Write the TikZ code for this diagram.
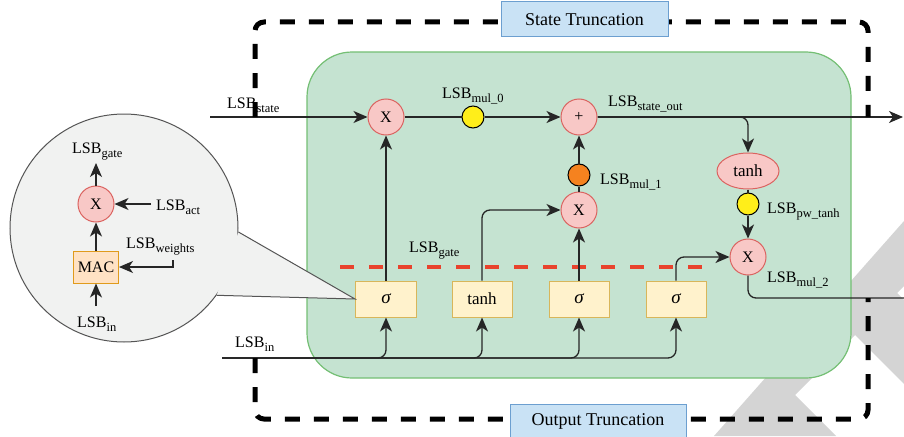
\documentclass[tikz,border=0pt]{standalone}
\usepackage{fontspec}
\setmainfont{Liberation Serif}
\usetikzlibrary{arrows.meta,shapes.geometric}
\definecolor{greenf}{HTML}{C5E3D1}
\definecolor{greenb}{HTML}{74BF74}
\definecolor{redf}{HTML}{F8C8C6}
\definecolor{redb}{HTML}{DB6360}
\definecolor{yelf}{HTML}{FFF2CC}
\definecolor{yelb}{HTML}{D8B65A}
\definecolor{macf}{HTML}{FFE2C4}
\definecolor{macb}{HTML}{E09B1C}
\definecolor{bluef}{HTML}{C9E2F5}
\definecolor{blueb}{HTML}{6C9FD0}
\definecolor{dotY}{HTML}{FFEE1A}
\definecolor{dotO}{HTML}{F5821F}
\definecolor{magf}{HTML}{F1F2F1}
\definecolor{magb}{HTML}{555555}
\definecolor{redd}{HTML}{E8432D}
\definecolor{wmk}{HTML}{D4D4D4}
\newcommand\lsbl[1]{LSB\raisebox{-4.5pt}{\fontsize{12.5}{12.5}\selectfont #1}}
\newcommand\sig{{\fontsize{19}{19}\selectfont\itshape σ}}
\begin{document}
\begin{tikzpicture}[x=1pt,y=-1pt,
 conn/.style={line width=1.3pt, draw=black!85},
 arr/.style={conn, -{Stealth[length=14pt,width=12pt,inset=4pt]}},
 opc/.style={circle, draw=redb, fill=redf, line width=1pt, minimum size=36pt, inner sep=0pt, font=\fontsize{16}{16}\selectfont},
 dotc/.style={circle, draw=black, line width=1pt, minimum size=22pt, inner sep=0pt},
 gbox/.style={rectangle, draw=yelb, fill=yelf, line width=1pt, minimum height=36pt, inner sep=0pt, font=\fontsize{17}{17}\selectfont},
 tbox/.style={rectangle, draw=blueb, fill=bluef, line width=1pt, inner sep=0pt, font=\fontsize{18}{18}\selectfont},
 lbl/.style={anchor=base west, inner sep=0pt, font=\fontsize{16}{16}\selectfont},
 trunc/.style={line width=5pt, dash pattern=on 15pt off 14pt, draw=black, rounded corners=9pt},
 gatedash/.style={line width=4pt, dash pattern=on 14pt off 15pt, draw=redd},
 rc/.style={rounded corners=8pt}
]
\useasboundingbox (0,0) rectangle (904,436);
% watermark
\fill[wmk] (714,436) -- (904,221) -- (904,286) -- (897,293) -- (904,300) -- (904,384) -- (855,335) -- (795,395) -- (836,436) -- cycle;
% cell
\node[rectangle, rounded corners=45pt, draw=greenb, fill=greenf, line width=1.2pt, minimum width=544pt, minimum height=326pt] (cell) at (579,215) {};
% gate boxes
\node[gbox, minimum width=61pt] (b1) at (386,299) {\sig};
\node[gbox, minimum width=60pt] (b2) at (482,299) {tanh};
\node[gbox, minimum width=60pt] (b3) at (579,299) {\sig};
\node[gbox, minimum width=60pt] (b4) at (676,299) {\sig};
% magnifier
\node[circle, draw=magb, fill=magf, line width=1pt, minimum size=228pt, inner sep=0pt] (mag) at (124,228) {};
\fill[magf] (mag.-2.5) -- (b1.west) -- (mag.-36) -- cycle;
\draw[magb, line width=1pt] (mag.-2.5) -- (b1.west) -- (mag.-36);
\node[opc] (mX) at (96,204) {X};
\node[rectangle, draw=macb, fill=macf, line width=1pt, minimum width=45pt, minimum height=32pt, inner sep=0pt, font=\fontsize{16}{16}\selectfont] (mac) at (96,267) {MAC};
\coordinate (mgo) at (96,163);
\coordinate (mact) at (151,204);
\coordinate (mwt) at (173,260);
\coordinate (min) at (96,306);
\draw[arr] (mac) -- (mX);
\draw[arr] (mX) -- (mgo);
\draw[arr] (mact) -- (mX);
\draw[arr] (mwt) |- (mac.east);
\draw[arr] (min) -- (mac);
\node[lbl] (mlg) at (72,153) {\lsbl{gate}};
\node[lbl] (mla) at (156,210) {\lsbl{act}};
\node[lbl] (mlw) at (126,248) {\lsbl{weights}};
\node[lbl] (mli) at (77,327) {\lsbl{in}};
% operators
\node[opc] (X1) at (386,117) {X};
\node[dotc, fill=dotY] (d0) at (473,117) {};
\node[opc] (plus) at (579,117) {+};
\node[dotc, fill=dotO] (d1) at (579,175) {};
\node[opc] (X2) at (579,210) {X};
\node[ellipse, draw=redb, fill=redf, line width=1pt, minimum width=62pt, minimum height=36pt, inner sep=0pt, font=\fontsize{17}{17}\selectfont] (tanhE) at (748,171) {tanh};
\node[dotc, fill=dotY] (dpw) at (748,204) {};
\node[opc] (X3) at (748,257) {X};
\coordinate (stin) at (210,117);
\coordinate (stout) at (903,117);
\coordinate (hout) at (904,298);
\coordinate (inL) at (222,358);
% gate dashed line
\draw[gatedash] (340,267) -- (703,267);
% connectors
\draw[arr] (stin) -- (X1);
\draw[conn] (X1) -- (d0);
\draw[arr] (d0) -- (plus);
\draw[arr] (plus) -- (stout);
\draw[arr, rc] (plus.east) -| (tanhE.north);
\draw[conn] (tanhE) -- (dpw);
\draw[arr] (dpw) -- (X3);
\draw[conn, rc] (X3.south) |- (hout);
\draw[conn] (X2) -- (d1);
\draw[arr] (d1) -- (plus);
\draw[arr] (b1) -- (X1);
\draw[arr, rc] (b2.north) |- (X2.west);
\draw[arr] (b3) -- (X2);
\draw[arr, rc] (b4.north) |- (X3.west);
\draw[arr, rc] (inL) -| (b1.south);
\draw[arr, rc] (inL) -| (b2.south);
\draw[arr, rc] (inL) -| (b3.south);
\draw[arr, rc] (inL) -| (b4.south);
% labels
\node[lbl] (lst) at (227,108) {\lsbl{state}};
\node[lbl] (lm0) at (442,98) {\lsbl{mul\_0}};
\node[lbl] (lso) at (608,106) {\lsbl{state\_out}};
\node[lbl] (lm1) at (600,184) {\lsbl{mul\_1}};
\node[lbl] (lpw) at (767,213) {\lsbl{pw\_tanh}};
\node[lbl] (lm2) at (767,282) {\lsbl{mul\_2}};
\node[lbl] (lg) at (409,252) {\lsbl{gate}};
\node[lbl] (lin) at (235,347) {\lsbl{in}};
% truncation loops
\coordinate (sa) at (255,117);
\coordinate (sb) at (868,117);
\coordinate (oa) at (255,358);
\coordinate (ob) at (868,298);
\draw[trunc] (sa) -- (255,22) -- (868,22) -- (sb);
\draw[trunc] (oa) -- (255,419) -- (868,419) -- (ob);
\node[tbox, minimum width=167pt, minimum height=35pt] (st) at (584.5,19.5) {State Truncation};
\node[tbox, minimum width=176pt, minimum height=34pt] (ot) at (598,421) {Output Truncation};
\end{tikzpicture}
\end{document}
